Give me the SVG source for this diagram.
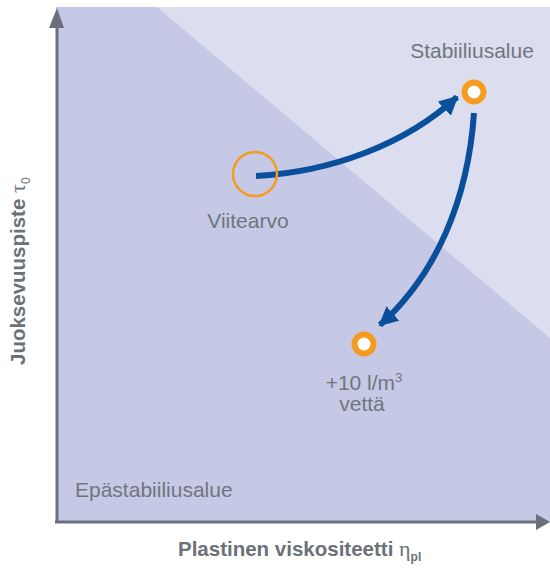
<svg xmlns="http://www.w3.org/2000/svg" width="550" height="568" viewBox="0 0 550 568">
<defs>
<style>
.lbl{font-family:"Liberation Sans",Arial,sans-serif;fill:#6f767d;font-size:21px}
.ax{font-family:"Liberation Sans",Arial,sans-serif;fill:#6a7178;font-size:20.5px;font-weight:bold}
.axis{stroke:#6a717a;stroke-width:3;fill:none}
.flow{stroke:#0a4f9c;stroke-width:6;fill:none}
.ring{fill:#fff;stroke:#f59b1f;stroke-width:6}
</style>
<marker id="ah" viewBox="0 0 10 10" refX="9" refY="5" markerWidth="3.2" markerHeight="3.2" orient="auto" markerUnits="strokeWidth">
<path d="M0,0 L10,5 L0,10 z" fill="#0a4f9c"/>
</marker>
</defs>
<g id="background">
<rect x="56" y="7" width="494" height="515" fill="#c5c9e5"/>
<polygon points="157,7 550,7 550,338" fill="#dcdeef"/>
</g>
<g id="axes">
<line class="axis" x1="57" y1="24" x2="57" y2="522"/>
<polygon points="57,8 49,28 64,28" fill="#6a717a"/>
<line class="axis" x1="55" y1="522" x2="536" y2="522"/>
<polygon points="550,522 536,514 536,530" fill="#6a717a"/>
</g>
<g id="connectors">
<path class="flow" d="M256,176 C330,172 405,145 457,97" marker-end="url(#ah)"/>
<path class="flow" d="M474,113 C468,200 436,275 380,325" marker-end="url(#ah)"/>
</g>
<g id="viitearvo">
<circle cx="255" cy="174" r="22" fill="none" stroke="#f59b1f" stroke-width="2.5"/>
<text class="lbl" x="248" y="228" text-anchor="middle">Viitearvo</text>
</g>
<g id="stabiiliusalue">
<circle class="ring" cx="474" cy="92" r="9.5"/>
<text class="lbl" x="472" y="58" text-anchor="middle">Stabiiliusalue</text>
</g>
<g id="vetta">
<circle class="ring" cx="364" cy="344" r="9.5"/>
<text class="lbl" x="364" y="390" text-anchor="middle">+10 l/m<tspan font-size="13" dy="-8">3</tspan></text>
<text class="lbl" x="362" y="411" text-anchor="middle">vettä</text>
</g>
<g id="epastabiiliusalue">
<text class="lbl" x="75" y="497">Epästabiiliusalue</text>
</g>
<g id="xlabel">
<text class="ax" x="178" y="556">Plastinen viskositeetti <tspan font-weight="normal" font-family="'Liberation Serif',serif" font-size="22">η</tspan><tspan font-size="12" dy="5">pl</tspan></text>
</g>
<g id="ylabel">
<text class="ax" transform="translate(25,365) rotate(-90)">Juoksevuuspiste <tspan font-weight="normal" font-family="'Liberation Serif',serif" font-size="22">τ</tspan><tspan font-weight="normal" font-size="12" dy="5">0</tspan></text>
</g>
</svg>
